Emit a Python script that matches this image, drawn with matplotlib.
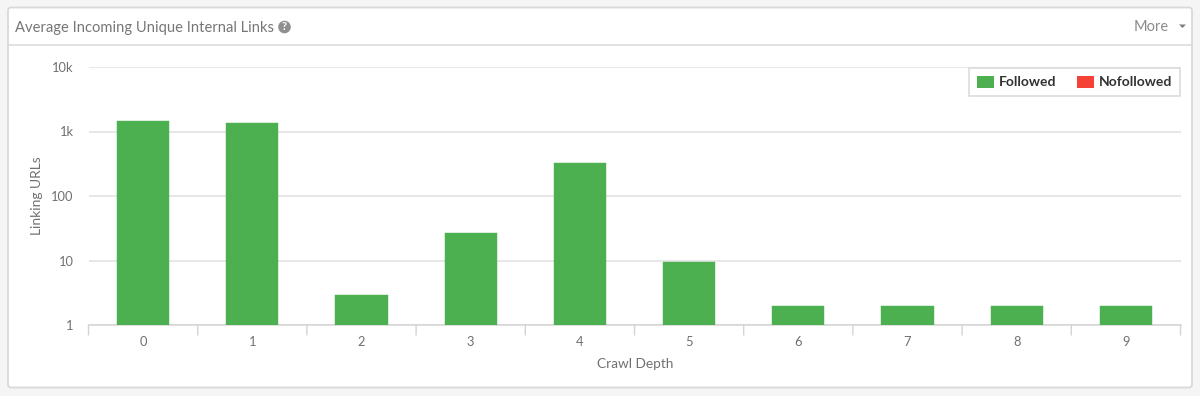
import matplotlib
matplotlib.use("Agg")
import matplotlib.pyplot as plt
from matplotlib.patches import FancyBboxPatch, Polygon, Circle, Patch
from matplotlib.lines import Line2D
from matplotlib.ticker import NullLocator

categories = ["0", "1", "2", "3", "4", "5", "6", "7", "8", "9"]
followed = [1455, 1360, 2.9, 26.7, 325, 9.5, 1.97, 1.97, 1.97, 1.97]
nofollowed = [0, 0, 0, 0, 0, 0, 0, 0, 0, 0]
y_ticks = [1, 10, 100, 1000, 10000]
y_labels = ["1", "10", "100", "1k", "10k"]

W, H = 1200, 396
plt.rcParams["font.family"] = ["Lato", "DejaVu Sans"]
fig = plt.figure(figsize=(W / 100, H / 100), dpi=100, facecolor="#f5f5f5")

# Full-figure overlay in pixel coordinates for the card chrome
bg = fig.add_axes([0, 0, 1, 1], zorder=0)
bg.set_xlim(0, W); bg.set_ylim(H, 0); bg.axis("off")
bg.add_patch(FancyBboxPatch((8, 7.5), 1184, 380, boxstyle="round,pad=0,rounding_size=3",
                            fc="white", ec="#d9d9d9", lw=1.3))
bg.add_line(Line2D([8, 1192], [44.5, 44.5], color="#d9d9d9", lw=1.1))
bg.text(15, 28, "Average Incoming Unique Internal Links", fontsize=10.65, color="#767676",
        va="center", ha="left")
bg.add_patch(Circle((284.5, 27), 6.3, fc="#8f8f8f", ec="none"))
bg.text(284.5, 27, "?", fontsize=8, color="white", fontweight="bold", va="center", ha="center")
bg.text(1134, 27, "More", fontsize=10.5, color="#8a8a8a", va="center", ha="left")
bg.add_patch(Polygon([[1179, 24.5], [1186, 24.5], [1182.5, 28]], closed=True, fc="#7d7d7d", ec="none"))

L, R, T, B = 88.5, 1180.5, 67, 325
ax = fig.add_axes([L / W, 1 - B / H, (R - L) / W, (B - T) / H], zorder=1)
ax.patch.set_alpha(0)
x = list(range(len(categories)))
width = 0.478
ax.set_yscale("log")
ax.bar(x, [v - 1 for v in followed], bottom=1, width=width, color="#4caf50",
       edgecolor="#4caf50", linewidth=0.3, zorder=3, label="Followed")
ax.bar(x, nofollowed, bottom=followed, width=width, color="#f44336", linewidth=0, zorder=3,
       label="Nofollowed")
ax.set_xlim(-0.5, 9.5)
ax.set_ylim(1, 10000)
ax.set_yticks(y_ticks, y_labels)
ax.yaxis.set_minor_locator(NullLocator())
ax.set_xticks(x, categories)
ax.grid(axis="y", color="#e0e0e0", lw=1.1, zorder=0)
for s in ("top", "right", "left"):
    ax.spines[s].set_visible(False)
ax.spines["bottom"].set_color("#d4d4d4")
ax.spines["bottom"].set_linewidth(1.1)
ax.tick_params(axis="y", length=0, pad=10.7, labelsize=9.3, labelcolor="#707070")
ax.tick_params(axis="x", length=0, pad=8, labelsize=9.3, labelcolor="#707070")
for i in range(len(categories) + 1):
    ax.annotate("", xy=(i - 0.5, 0), xycoords=ax.get_xaxis_transform(), xytext=(0, -7.2),
                textcoords="offset points",
                arrowprops=dict(arrowstyle="-", color="#d4d4d4", lw=1.0, shrinkA=0, shrinkB=0))
fig.text(635 / W, 1 - 364.5 / H, "Crawl Depth", fontsize=9.8, color="#707070", ha="center", va="center")
fig.text(37 / W, 1 - 195.5 / H, "Linking URLs", fontsize=10, color="#707070", ha="center", va="center",
         rotation=90)

leg = ax.legend(handles=[Patch(fc="#4caf50", label="Followed"), Patch(fc="#f44336", label="Nofollowed")],
                ncol=2, loc="upper left", bbox_to_anchor=((969 - L) / (R - L), 1 - (68 - T) / (B - T)),
                borderaxespad=0, frameon=True, fancybox=False, edgecolor="#d9d9d9", facecolor="white",
                framealpha=1, prop={"size": 10, "weight": "bold"}, labelcolor="#333333",
                handlelength=1.22, handleheight=0.95, handletextpad=0.36, columnspacing=1.5,
                borderpad=0.55)
leg.get_frame().set_linewidth(1.1)
leg.set_zorder(5)

fig.savefig("out.png", dpi=100, facecolor=fig.get_facecolor())
